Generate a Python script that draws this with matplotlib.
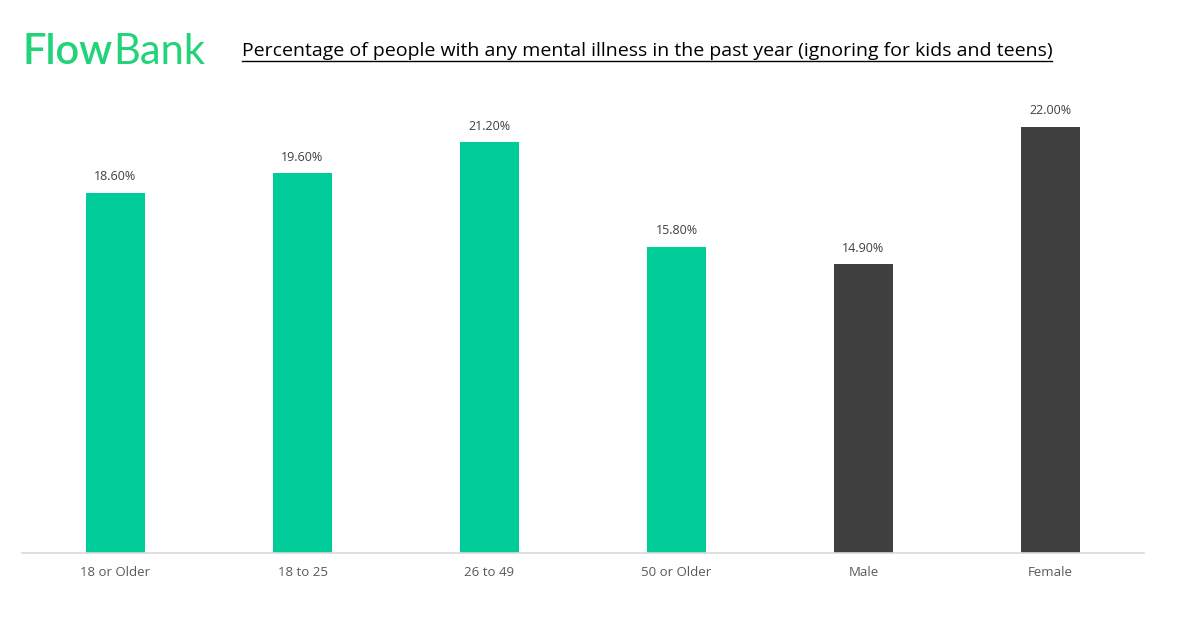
import numpy as np
import matplotlib
matplotlib.use('Agg')
import matplotlib.pyplot as plt

# data
categories = ['18 or Older', '18 to 25', '26 to 49', '50 or Older', 'Male', 'Female']
values = [18.6, 19.6, 21.2, 15.8, 14.9, 22.0]
bar_colors = ['#00CC99', '#00CC99', '#00CC99', '#00CC99', '#404040', '#404040']

plt.rcParams['font.family'] = ['Open Sans', 'DejaVu Sans']

W, H = 1186, 626
fig = plt.figure(figsize=(W / 100, H / 100), dpi=100)

# axes placed in pixel terms
ymax = 24.0
px_per_unit = 426 / 22.0
ax_left, ax_right, ax_base = 22, 1144, 553
ax_top = ax_base - ymax * px_per_unit
ax = fig.add_axes([ax_left / W, (H - ax_base) / H,
                   (ax_right - ax_left) / W, (ax_base - ax_top) / H])

x = np.arange(len(categories))
bars = ax.bar(x, values, width=0.315, color=bar_colors)
ax.set_xlim(-0.5, len(categories) - 0.5)
ax.set_ylim(0, ymax)

for b, v in zip(bars, values):
    ax.annotate(f'{v:.2f}%', (b.get_x() + b.get_width() / 2, v),
                xytext=(0, 7), textcoords='offset points',
                ha='center', va='bottom', fontsize=9, color='#404040')

ax.set_xticks(x)
ax.set_xticklabels(categories, fontsize=9.5, color='#595959')
ax.tick_params(axis='x', length=0, pad=9)
ax.set_yticks([])
for s in ['top', 'right', 'left']:
    ax.spines[s].set_visible(False)
ax.spines['bottom'].set_color('#D9D9D9')
ax.spines['bottom'].set_linewidth(1.2)

# logo
logo_y = 1 - 52 / H
t1 = fig.text(22 / W, logo_y, 'Flow', fontsize=30, color='#22D37A',
              ha='left', va='center', fontweight='semibold', family=['Lato', 'DejaVu Sans'])
fig.canvas.draw()
x1 = t1.get_window_extent().x1
fig.text((x1 + 1) / W, logo_y, 'Bank', fontsize=30, color='#22D37A',
         ha='left', va='center', fontweight='normal', family=['Lato', 'DejaVu Sans'])

# title
title = 'Percentage of people with any mental illness in the past year (ignoring for kids and teens)'
t = fig.text(647 / W, 1 - 51 / H, title, fontsize=14, color='black',
             ha='center', va='center')
fig.canvas.draw()
bb = t.get_window_extent()
fig.add_artist(plt.Line2D([bb.x0 / W, bb.x1 / W], [(bb.y0 - 1) / H, (bb.y0 - 1) / H],
                          color='black', lw=1.0, transform=fig.transFigure))

fig.savefig('out.png', dpi=100)
